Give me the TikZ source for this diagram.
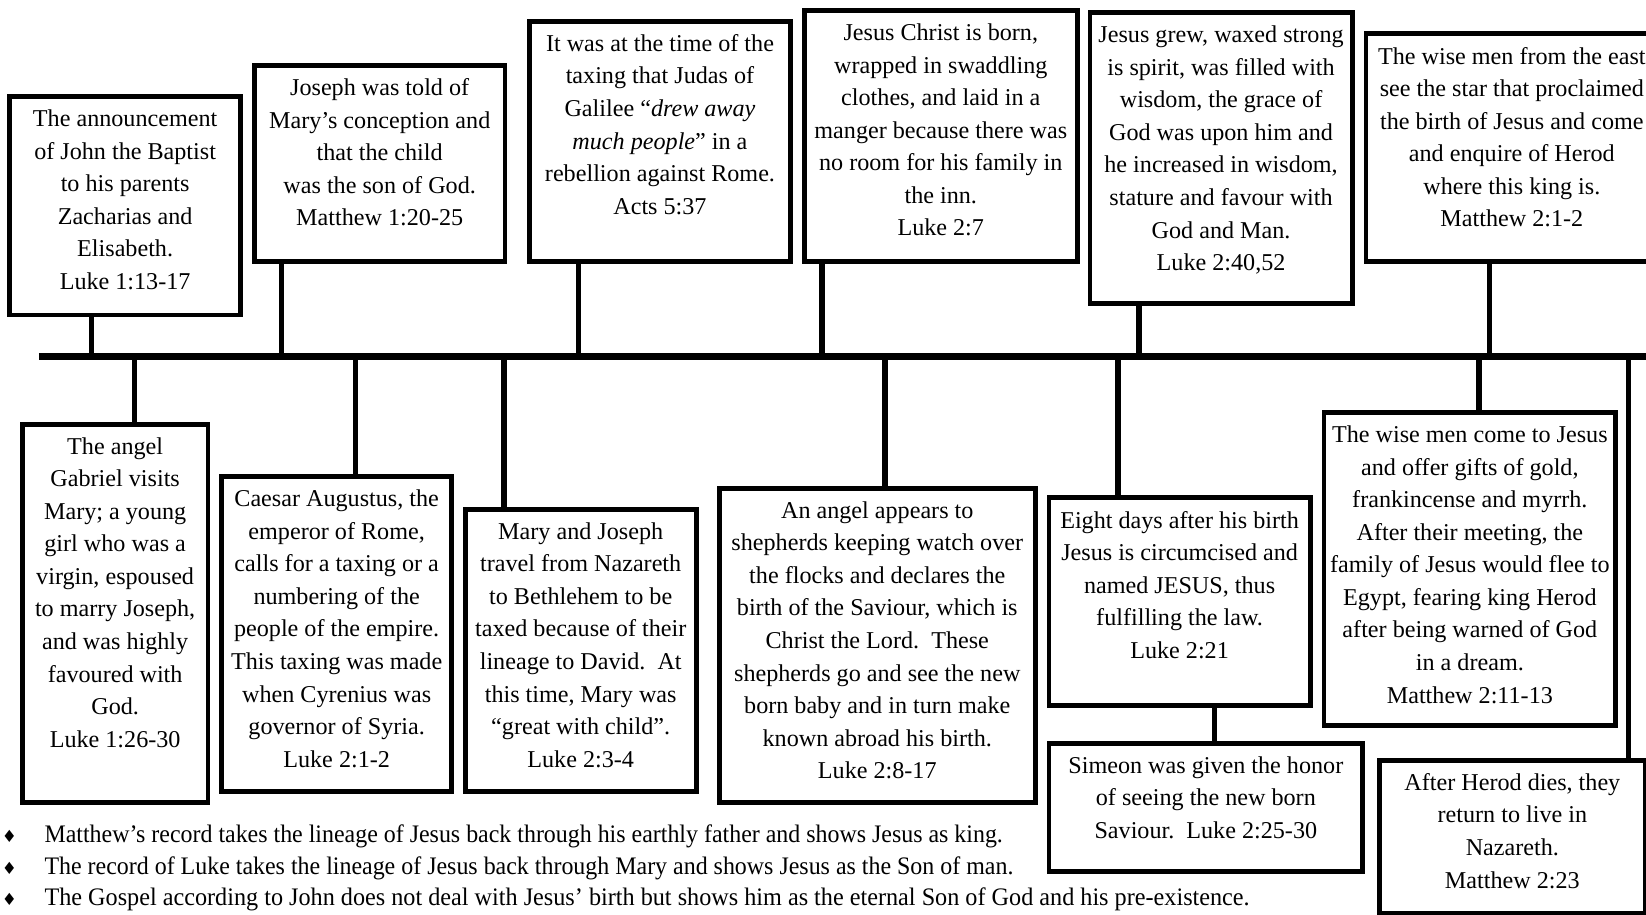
\documentclass[tikz,border=0pt]{standalone}
\usepackage{fontspec}
\setmainfont{Liberation Serif}
\newfontfamily\symfont{DejaVu Sans}
\usepackage{graphicx}
\newcommand\bx[3]{\parbox[t][\dimexpr#2pt/2\relax][t]{\dimexpr#1pt/2\relax}{\centering\vspace*{6.3pt}#3\par}}
\newcommand\bxo[4]{\makebox[\dimexpr#1pt/2\relax][l]{\bx{#2}{#3}{#4}}}
\newcommand\zline[1]{\makebox[0pt]{#1}}
\begin{document}
\begin{tikzpicture}[x=0.5pt,y=-0.5pt,
  ev/.style={draw, line width=2.2pt, inner sep=0pt, anchor=north west, fill=white, font=\fontsize{11.5}{15.5}\selectfont},
  stem/.style={line width=2.5pt},
  timeline/.style={line width=3.3pt},
  note/.style={anchor=west, inner sep=0pt, font=\fontsize{12}{15.5}\selectfont},
  bullet/.style={inner sep=0pt, font=\symfont\fontsize{8}{8}\selectfont}]
\useasboundingbox (0,0) rectangle (1568,871);
\clip (0,0) rectangle (1568,871);
\fill[white] (0,0) rectangle (1568,871);

% timeline
\coordinate (tlL) at (37,340);
\coordinate (tlR) at (1590,340);
\draw[timeline] (tlL) -- (tlR);

% top boxes
\node[ev] (t1) at (7,90) {\bx{220}{208}{The announcement\\of John the Baptist\\to his parents\\Zacharias and\\Elisabeth.\\Luke 1:13-17}};
\node[ev] (t2) at (240,60) {\bx{239}{187}{Joseph was told of\\Mary’s conception and\\that the child\\was the son of God.\\Matthew 1:20-25}};
\node[ev] (t3) at (502,18) {\bx{249}{229}{It was at the time of the\\taxing that Judas of\\Galilee “\textit{drew away}\\\textit{much people}” in a\\rebellion against Rome.\\Acts 5:37}};
\node[ev] (t4) at (764,8) {\bx{260}{239}{Jesus Christ is born,\\wrapped in swaddling\\clothes, and laid in a\\manger because there was\\no room for his family in\\the inn.\\Luke 2:7}};
\node[ev] (t5) at (1036,10) {\bx{250}{277}{Jesus grew, waxed strong\\is spirit, was filled with\\wisdom, the grace of\\God was upon him and\\he increased in wisdom,\\stature and favour with\\God and Man.\\Luke 2:40,52}};
\node[ev] (t6) at (1299,30) {\bxo{300}{278}{217}{The wise men from the east\\see the star that proclaimed\\the birth of Jesus and come\\and enquire of Herod\\where this king is.\\Matthew 2:1-2}};

% bottom boxes
\node[ev] (b1) at (19,402) {\bx{177}{360}{The angel\\Gabriel visits\\Mary; a young\\girl who was a\\virgin, espoused\\to marry Joseph,\\and was highly\\favoured with\\God.\\Luke 1:26-30}};
\node[ev] (b2) at (209,452) {\bx{219}{300}{Caesar Augustus, the\\emperor of Rome,\\calls for a taxing or a\\numbering of the\\people of the empire.\\This taxing was made\\when Cyrenius was\\governor of Syria.\\Luke 2:1-2}};
\node[ev] (b3) at (441,483) {\bx{220}{269}{Mary and Joseph\\travel from Nazareth\\to Bethlehem to be\\taxed because of their\\lineage to David.\ \ At\\this time, Mary was\\“great with child”.\\Luke 2:3-4}};
\node[ev] (b4) at (683,463) {\bx{301}{299}{An angel appears to\\shepherds keeping watch over\\the flocks and declares the\\birth of the Saviour, which is\\Christ the Lord.\ \ These\\shepherds go and see the new\\born baby and in turn make\\known abroad his birth.\\Luke 2:8-17}};
\node[ev] (b5) at (997,472) {\bx{249}{198}{Eight days after his birth\\Jesus is circumcised and\\named JESUS, thus\\fulfilling the law.\\Luke 2:21}};
\node[ev] (b6) at (997,706) {\bx{299}{122}{Simeon was given the honor\\of seeing the new born\\Saviour.\ \ Luke 2:25-30}};
\node[ev] (b7) at (1259,391) {\bx{278}{298}{The wise men come to Jesus\\and offer gifts of gold,\\frankincense and myrrh.\\After their meeting, the\\family of Jesus would flee to\\Egypt, fearing king Herod\\after being warned of God\\in a dream.\\Matthew 2:11-13}};
\node[ev] (b8) at (1312,722) {\bx{253}{146}{\zline{After Herod dies, they}\\\zline{return to live in}\\\zline{Nazareth.}\\\zline{Matthew 2:23}}};

% stem positions on the timeline
\coordinate (s1) at (87,340);
\coordinate (s2) at (268,340);
\coordinate (s3) at (551,340);
\coordinate (s4) at (783,340);
\coordinate (s5) at (1085,340);
\coordinate (s6) at (1419,340);
\coordinate (u1) at (128,340);
\coordinate (u2) at (339,340);
\coordinate (u3) at (480,340);
\coordinate (u4) at (843,340);
\coordinate (u5) at (1065,340);
\coordinate (u7) at (1409,340);
\coordinate (u8) at (1551,340);
\coordinate (v6) at (1157,700);

\foreach \b/\s in {t1/s1,t2/s2,t3/s3,t4/s4,t5/s5,t6/s6}
  \draw[stem] (\b.south -| \s) -- (\s);
\foreach \b/\s in {b1/u1,b2/u2,b3/u3,b4/u4,b5/u5,b7/u7,b8/u8}
  \draw[stem] (\s) -- (\b.north -| \s);
\draw[stem] (b5.south -| v6) -- (b6.north -| v6);

% notes
\node[bullet] (d1) at (9,797) {♦};
\node[bullet] (d2) at (9,827) {♦};
\node[bullet] (d3) at (9,857) {♦};
\node[note] (n1) at (42,797) {\resizebox{456.5pt}{\height}{Matthew’s record takes the lineage of Jesus back through his earthly father and shows Jesus as king.}};
\node[note] (n2) at (42,827) {\resizebox{461.5pt}{\height}{The record of Luke takes the lineage of Jesus back through Mary and shows Jesus as the Son of man.}};
\node[note] (n3) at (42,857) {\resizebox{574pt}{\height}{The Gospel according to John does not deal with Jesus’ birth but shows him as the eternal Son of God and his pre-existence.}};
\end{tikzpicture}
\end{document}
